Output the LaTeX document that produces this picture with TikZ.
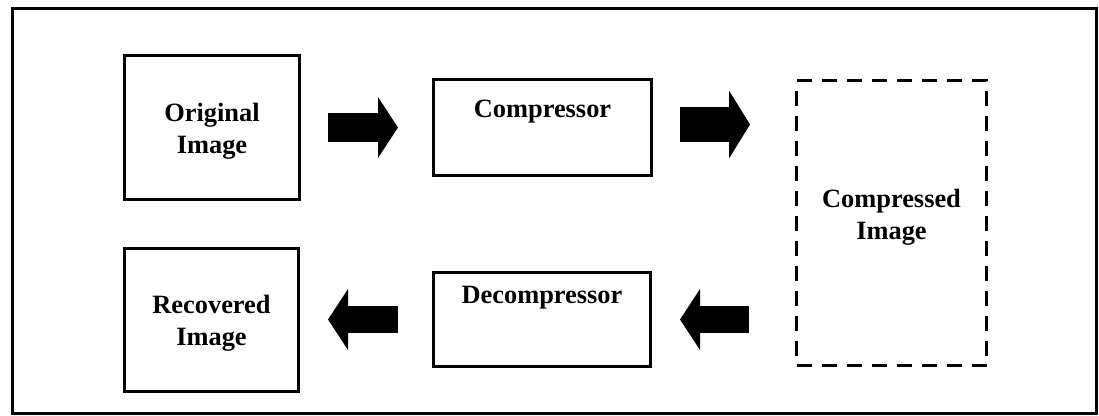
\documentclass[tikz,border=0pt]{standalone}
\usepackage{fontspec}
\setmainfont{Liberation Serif}
\usetikzlibrary{arrows.meta}
\begin{document}
\begin{tikzpicture}[x=1bp,y=-1bp,
  box/.style={draw, line width=3bp, inner sep=0pt, rectangle},
  dashbox/.style={draw, line width=3.4bp, inner sep=0pt, rectangle, dash pattern=on 15bp off 10bp},
  txt/.style={font=\fontsize{26.4bp}{32bp}\selectfont\bfseries, align=center, inner sep=0pt},
  blockarrow/.style={line width=#1, -{Triangle[length=20bp,width=60bp]}}
]
\useasboundingbox (0,0) rectangle (1099,415);
% outer frame
\draw[line width=2.5bp] (12.5,8.5) rectangle (1096.5,413.5);

% processing blocks
\node[box, minimum width=175bp, minimum height=144bp,
  label={[txt, yshift=-3.5bp]center:Original\\Image}] (orig) at (212,127.5) {};
\node[box, minimum width=218bp, minimum height=96bp,
  label={[txt, yshift=15.5bp]center:Compressor}] (comp) at (542.5,127.5) {};
\node[dashbox, minimum width=190bp, minimum height=285bp,
  label={[txt, yshift=6bp]center:Compressed\\Image}] (cimg) at (891.5,223) {};
\node[box, minimum width=217bp, minimum height=94bp,
  label={[txt, yshift=22bp]center:Decompressor}] (decomp) at (542,319.5) {};
\node[box, minimum width=174bp, minimum height=143bp,
  label={[txt, yshift=-3bp]center:Recovered\\Image}] (rec) at (211.5,320) {};

% arrow end points
\coordinate (a1s) at (328,127.5);  \coordinate (a1e) at (398,127.5);
\coordinate (a2s) at (680,124.5);  \coordinate (a2e) at (750,124.5);
\coordinate (a3s) at (749,319.5);  \coordinate (a3e) at (680,319.5);
\coordinate (a4s) at (398,319.5);  \coordinate (a4e) at (328,319.5);

\draw[blockarrow=29bp] (a1s) -- (a1e);
\draw[line width=35bp, -{Triangle[length=21bp,width=67bp]}] (a2s) -- (a2e);
\draw[blockarrow=27bp] (a3s) -- (a3e);
\draw[blockarrow=27bp] (a4s) -- (a4e);
\end{tikzpicture}
\end{document}
